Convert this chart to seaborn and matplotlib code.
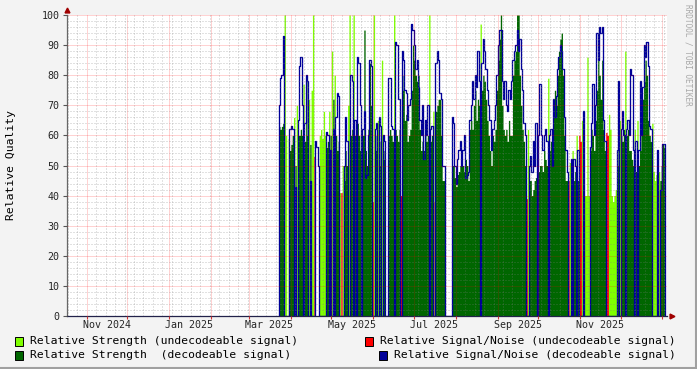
import numpy as np
import pandas as pd
import matplotlib
matplotlib.use("Agg")
import matplotlib.pyplot as plt
import matplotlib.dates as mdates
from matplotlib.ticker import MultipleLocator, NullFormatter
from matplotlib.patches import Rectangle
from matplotlib.lines import Line2D
import seaborn as sns

# ---------------- data (one value per day, starting 2025-03-23) ----------------
first_day = "2025-03-23"
# D = decodeable, U = undecodeable (strength shown), R = undecodeable (S/N shown), - = no data
flag_rows = [
    "DDDDUU-UDD", "DUDUDDDDUD", "DDUDUURDDD", "UUUUUDDUDU", "DUDDDURUDD",
    "DUUDDUDRDD", "DRDDDDDDDR", "UDDUDDUDD-", "-DDDDUDDDD", "RDDDDDDDDD",
    "DDDDDDDDDD", "DUDDURDDDD", "DDD-----DD", "DDDDDDDDDD", "DDDDDDDDDU",
    "DDDDDDDDDD", "DDDDDDDDDD", "DDDDDDDDDD", "DDDRUDDDDD", "DUDDDDDDDU",
    "DDDDDDDDDD", "DDDDRUDUDD", "UDRRUDUUUU", "DDDDDDDDDD", "DDRRUUUUUU",
    "DDUDDDUDDD", "DDDUDUDDDD", "DDDDDDUUUU", "DUDDDD",
]
strength = [
    63, 62, 63, 64, 100, 60, 0, 59, 55, 57,
    60, 66, 50, 70, 60, 60, 62, 60, 77, 58,
    78, 60, 72, 57, 75, 100, 0, 0, 0, 0,
    60, 62, 59, 68, 60, 56, 58, 68, 60, 88,
    72, 80, 60, 55, 58, 41, 0, 50, 45, 55,
    50, 70, 100, 60, 62, 100, 60, 0, 64, 60,
    55, 0, 60, 95, 55, 50, 62, 84, 70, 0,
    100, 60, 55, 65, 50, 58, 85, 55, 52, 0,
    0, 60, 62, 60, 58, 100, 62, 60, 58, 62,
    0, 80, 75, 65, 67, 58, 60, 62, 75, 90,
    85, 80, 78, 80, 62, 55, 58, 55, 60, 58,
    60, 100, 58, 60, 68, 0, 68, 70, 72, 72,
    60, 45, 45, 0, 0, 0, 0, 0, 50, 50,
    46, 43, 47, 48, 50, 52, 50, 48, 52, 50,
    45, 62, 65, 62, 70, 75, 65, 72, 70, 97,
    75, 80, 78, 72, 65, 60, 55, 50, 60, 58,
    62, 75, 85, 92, 100, 70, 62, 60, 62, 58,
    65, 60, 60, 80, 85, 88, 100, 100, 80, 70,
    62, 58, 50, 0, 62, 45, 45, 40, 42, 45,
    46, 48, 48, 50, 50, 48, 55, 52, 50, 79,
    55, 58, 58, 72, 75, 70, 80, 88, 92, 94,
    80, 60, 45, 45, 0, 51, 45, 55, 45, 48,
    60, 45, 0, 0, 65, 45, 40, 40, 86, 40,
    55, 62, 60, 55, 65, 75, 90, 80, 72, 85,
    62, 55, 0, 0, 67, 62, 40, 38, 40, 42,
    50, 60, 65, 60, 58, 62, 88, 60, 62, 55,
    55, 52, 50, 62, 48, 65, 50, 55, 62, 72,
    78, 85, 80, 65, 60, 58, 64, 48, 45, 47,
    42, 48, 45, 50, 57, 56,
]
snr = [
    70, 79, 80, 93, 0, 0, 0, 0, 62, 63,
    62, 0, 43, 0, 65, 83, 86, 70, 0, 64,
    80, 78, 0, 45, 0, 0, 53, 58, 56, 50,
    0, 0, 0, 0, 0, 61, 60, 0, 55, 0,
    62, 0, 66, 74, 73, 0, 41, 0, 50, 66,
    58, 0, 0, 80, 78, 0, 65, 36, 86, 84,
    70, 55, 62, 68, 46, 47, 60, 85, 83, 38,
    0, 62, 64, 0, 66, 63, 0, 60, 58, 0,
    0, 79, 79, 63, 62, 0, 91, 90, 72, 72,
    40, 88, 85, 75, 74, 65, 70, 72, 97, 95,
    90, 82, 85, 76, 65, 60, 70, 52, 65, 60,
    70, 0, 62, 63, 0, 38, 84, 88, 85, 74,
    72, 50, 50, 0, 0, 0, 0, 0, 66, 64,
    50, 44, 52, 55, 58, 50, 55, 60, 46, 47,
    48, 65, 70, 78, 72, 80, 76, 88, 78, 0,
    84, 92, 88, 82, 75, 70, 65, 55, 62, 65,
    70, 80, 90, 95, 95, 78, 72, 78, 70, 68,
    75, 72, 78, 85, 88, 90, 95, 88, 92, 82,
    75, 64, 60, 39, 0, 50, 53, 48, 58, 50,
    64, 0, 60, 77, 60, 55, 60, 62, 58, 0,
    60, 62, 50, 72, 66, 73, 82, 86, 90, 88,
    82, 66, 55, 48, 45, 0, 52, 0, 52, 50,
    0, 55, 60, 58, 0, 68, 0, 0, 0, 0,
    56, 64, 77, 60, 70, 94, 85, 96, 94, 96,
    65, 58, 61, 60, 0, 0, 0, 0, 0, 0,
    55, 78, 0, 62, 68, 60, 0, 62, 65, 60,
    82, 80, 55, 0, 58, 0, 55, 78, 60, 76,
    90, 86, 91, 83, 63, 62, 0, 0, 0, 0,
    55, 0, 42, 42, 57, 57,
]
legend_labels = [
    "Relative Strength (undecodeable signal)",
    "Relative Signal/Noise (undecodeable signal)",
    "Relative Strength  (decodeable signal)",
    "Relative Signal/Noise (decodeable signal)",
]
y_label = "Relative Quality"
watermark = "RRDTOOL / TOBI OETIKER"

# ---------------- styling ----------------
C_LGREEN = "#80ff00"
C_DGREEN = "#006600"
C_RED = "#ff0000"
C_BLUE = "#000099"
BG = "#f3f3f3"

sns.set_theme(style="white")
plt.rcParams["font.family"] = ["DejaVu Sans Mono", "DejaVu Sans"]

flags = np.array(list("".join(flag_rows)))
s = np.array(strength, dtype=float)
n = np.array(snr, dtype=float)
N = len(s)

start = mdates.date2num(np.datetime64(first_day))
edges = start + np.arange(N + 1)
centers = edges[:-1] + 0.5

df = pd.DataFrame({
    "t": centers,
    "str_undec": np.where(flags == "U", s, 0.0),
    "str_dec": np.where(flags == "D", s, 0.0),
    "snr_undec": np.where(flags == "R", n, 0.0),
    "snr_dec": np.where(flags == "D", n, 0.0),
})

W, H = 697, 369
fig = plt.figure(figsize=(W / 100, H / 100), dpi=100, facecolor=BG)
ax = fig.add_axes([67 / W, 53 / H, 600 / W, 301 / H])
ax.set_facecolor("white")

for col_name, col in [("str_undec", C_LGREEN), ("str_dec", C_DGREEN), ("snr_undec", C_RED)]:
    sns.histplot(data=df, x="t", weights=col_name, binwidth=1,
                 binrange=(float(edges[0]), float(edges[-1])), element="step", fill=True,
                 color=col, alpha=1, linewidth=0, ax=ax, zorder=1)

line_df = pd.DataFrame({
    "x": np.concatenate([[edges[0]], edges]),
    "y": np.concatenate([[0.0], df["snr_dec"].to_numpy(), [0.0]]),
})
sns.lineplot(data=line_df, x="x", y="y", estimator=None, sort=False, drawstyle="steps-post",
             color=C_BLUE, linewidth=0.95, ax=ax, zorder=2)

ax.set_xlim(mdates.date2num(np.datetime64("2024-10-17T10:00")),
            mdates.date2num(np.datetime64("2026-01-04T08:00")))
ax.set_ylim(0, 100)
ax.set_xlabel("")
ax.set_ylabel("")

# grid
ax.xaxis.set_major_locator(mdates.MonthLocator(bymonthday=1))
ax.xaxis.set_minor_locator(mdates.WeekdayLocator(byweekday=mdates.FR))
ax.xaxis.set_major_formatter(NullFormatter())
ax.xaxis.set_minor_formatter(NullFormatter())
ax.yaxis.set_major_locator(MultipleLocator(10))
ax.yaxis.set_minor_locator(MultipleLocator(2))
ax.set_axisbelow(False)
ax.grid(which="minor", color="#7f7f7f", alpha=0.45, linewidth=0.72, linestyle=(0, (1, 2)))
ax.grid(which="major", color="#ff0000", alpha=0.35, linewidth=0.72, linestyle=(0, (1, 1)))

ax.tick_params(axis="y", which="major", length=3, width=0.8, color="#555555",
               labelsize=7.2, pad=2.5, left=True)
ax.tick_params(axis="y", which="minor", length=0)
ax.tick_params(axis="x", which="major", length=2.5, width=0.8, color="#cc3333",
               direction="out", bottom=True)
ax.tick_params(axis="x", which="minor", length=0)

sec = ax.secondary_xaxis("bottom")
sec.xaxis.set_major_locator(mdates.MonthLocator(bymonth=[1, 3, 5, 7, 9, 11], bymonthday=16))
sec.xaxis.set_major_formatter(mdates.DateFormatter("%b %Y"))
sec.tick_params(length=0, labelsize=7.2, pad=3)
sec.spines["bottom"].set_visible(False)

for side in ["top", "right"]:
    ax.spines[side].set_visible(False)
ax.spines["left"].set_color("#666666")
ax.spines["left"].set_linewidth(0.9)
ax.spines["bottom"].set_color("#22224a")
ax.spines["bottom"].set_linewidth(0.9)

# axis arrows
ax.plot([0], [1.017], marker="^", color="#a00000", markersize=3.5,
        transform=ax.transAxes, clip_on=False, zorder=5)
ax.plot([1.009], [0], marker=">", color="#a00000", markersize=3.5,
        transform=ax.transAxes, clip_on=False, zorder=5)

# y label
fig.text(11 / W, 1 - 165 / H, y_label, rotation=90, ha="center", va="center",
         fontsize=8.2, color="black")

# watermark
fig.text(688 / W, 1 - 4 / H, watermark, rotation=270, ha="center", va="top",
         fontsize=5.6, color="#a8a8a8")

# legend
legend_items = [
    (legend_labels[0], C_LGREEN, 15, 341),
    (legend_labels[1], C_RED, 365, 341),
    (legend_labels[2], C_DGREEN, 15, 355),
    (legend_labels[3], C_BLUE, 379, 355),
]
for text, col, x0, yc in legend_items:
    fig.add_artist(Rectangle((x0 / W, 1 - (yc + 4.5) / H), 8 / W, 9 / H,
                             transform=fig.transFigure, facecolor=col,
                             edgecolor="black", linewidth=0.7))
    fig.text((x0 + 15) / W, 1 - yc / H, text, ha="left", va="center",
             fontsize=8.2, color="black")

# frame
fig.add_artist(Line2D([0, 1], [0.8 / H, 0.8 / H], transform=fig.transFigure,
                      color="#a0a0a0", linewidth=1.5))
fig.add_artist(Line2D([1 - 0.8 / W, 1 - 0.8 / W], [0, 1], transform=fig.transFigure,
                      color="#a0a0a0", linewidth=1.5))

fig.savefig("out.png", dpi=100, facecolor=BG)
